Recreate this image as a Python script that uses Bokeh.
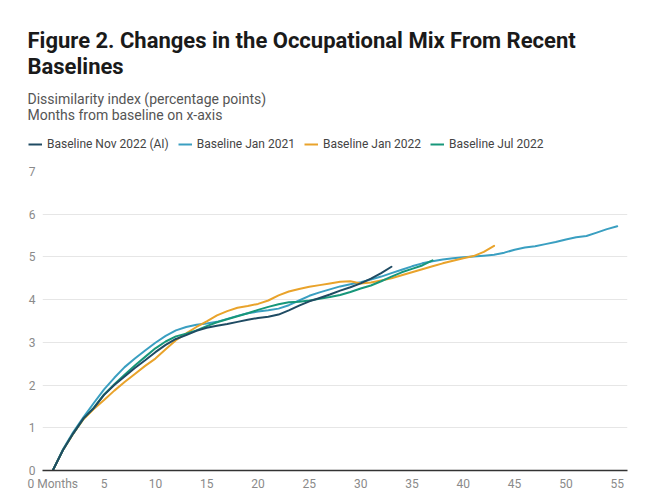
from bokeh.plotting import figure
from bokeh.layouts import column
from bokeh.models import Range1d, FixedTicker, Legend, LegendItem, Label
from bokeh.embed import file_html
from bokeh.resources import INLINE

# ---- data ----
series_names = ["Baseline Nov 2022 (AI)", "Baseline Jan 2021", "Baseline Jan 2022", "Baseline Jul 2022"]

nov2022_ai = [0, 0.48, 0.87, 1.22, 1.46, 1.77, 2.0, 2.2, 2.4, 2.58, 2.77, 2.94, 3.08, 3.17, 3.27,
              3.34, 3.39, 3.43, 3.48, 3.53, 3.57, 3.6, 3.65, 3.75, 3.86, 3.96, 4.04, 4.12, 4.21,
              4.29, 4.38, 4.49, 4.62, 4.77]
jan2021 = [0, 0.5, 0.9, 1.25, 1.58, 1.9, 2.17, 2.42, 2.62, 2.81, 2.99, 3.15, 3.28, 3.36, 3.41,
           3.44, 3.48, 3.55, 3.62, 3.68, 3.72, 3.75, 3.79, 3.87, 3.98, 4.09, 4.17, 4.24, 4.31,
           4.36, 4.41, 4.47, 4.54, 4.62, 4.7, 4.78, 4.85, 4.9, 4.94, 4.97, 4.99, 5.01, 5.03,
           5.05, 5.1, 5.17, 5.22, 5.25, 5.3, 5.35, 5.41, 5.46, 5.49, 5.57, 5.65, 5.72]
jan2022 = [0, 0.48, 0.86, 1.2, 1.44, 1.65, 1.87, 2.07, 2.26, 2.45, 2.62, 2.84, 3.05, 3.21, 3.36,
           3.49, 3.63, 3.73, 3.81, 3.85, 3.9, 3.98, 4.1, 4.19, 4.25, 4.3, 4.34, 4.38, 4.42,
           4.43, 4.38, 4.4, 4.45, 4.5, 4.57, 4.64, 4.71, 4.78, 4.85, 4.91, 4.97, 5.02, 5.12, 5.26]
jul2022 = [0, 0.48, 0.87, 1.22, 1.47, 1.78, 2.02, 2.24, 2.46, 2.66, 2.86, 3.02, 3.14, 3.2, 3.28,
           3.38, 3.47, 3.54, 3.61, 3.68, 3.76, 3.83, 3.89, 3.94, 3.95, 3.98, 4.02, 4.06, 4.11,
           4.18, 4.26, 4.33, 4.43, 4.54, 4.64, 4.72, 4.8, 4.92]

x_ticks = [0, 5, 10, 15, 20, 25, 30, 35, 40, 45, 50, 55]
x_tick_labels = {0: "0 Months"}
y_ticks = [0, 1, 2, 3, 4, 5, 6, 7]

title_lines = ["Figure 2. Changes in the Occupational Mix From Recent", "Baselines"]
subtitle_lines = ["Dissimilarity index (percentage points)", "Months from baseline on x-axis"]

colors = ["#1f4b63", "#3a9fc1", "#e9a32b", "#17977a"]

W = 634
HEAD_H = 160
FONT = "Roboto"
NAN = float("nan")

# ---- header figure (title, subtitle, legend) ----
head = figure(width=W, height=HEAD_H, output_backend="svg", toolbar_location=None,
              x_range=Range1d(0, W), y_range=Range1d(HEAD_H, 0),
              x_axis_type=None, y_axis_type=None,
              min_border_left=0, min_border_right=0, min_border_top=0, min_border_bottom=0)
head.frame_align = False
head.outline_line_color = None
head.xgrid.visible = False
head.ygrid.visible = False

for i, t in enumerate(title_lines):
    head.add_layout(Label(x=27, y=40 + 26 * i, text=t, text_font=FONT, text_font_style="bold",
                          text_font_size="22px", text_color="#1a1a1a", text_baseline="alphabetic"))
for i, t in enumerate(subtitle_lines):
    head.add_layout(Label(x=27, y=98 + 16 * i, text=t, text_font=FONT, text_font_size="14px",
                          text_color="#555555", text_baseline="alphabetic"))

# legend-only renderers (a single NaN point draws nothing)
legend_renderers = [head.line([NAN], [NAN], line_color=c, line_width=2) for c in colors]
items = [LegendItem(label=n, renderers=[r]) for n, r in zip(series_names, legend_renderers)]
legend = Legend(items=items, location=(28, HEAD_H - 152), orientation="horizontal",
                background_fill_alpha=0, border_line_alpha=0, padding=0, margin=0,
                spacing=9, glyph_width=14, glyph_height=16, label_height=16,
                label_standoff=5, label_text_font=FONT,
                label_text_font_size="12px", label_text_color="#444444")
head.add_layout(legend, "center")

# ---- chart figure ----
p = figure(width=W, height=333, output_backend="svg", toolbar_location=None,
           x_range=Range1d(-1, 56), y_range=Range1d(0, 7),
           min_border_left=42, min_border_right=7, min_border_top=11, min_border_bottom=22)
p.frame_align = False
p.outline_line_color = None

p.xgrid.visible = False
p.ygrid.grid_line_color = "#e6e6e6"
p.ygrid.grid_line_width = 1
p.ygrid.ticker = FixedTicker(ticks=y_ticks)

p.xaxis.ticker = FixedTicker(ticks=x_ticks)
p.xaxis.major_label_overrides = x_tick_labels
p.xaxis.axis_line_color = "#333333"
p.xaxis.axis_line_width = 1.5
p.xaxis.major_tick_line_color = None
p.xaxis.minor_tick_line_color = None
p.xaxis.major_tick_out = 0
p.xaxis.major_tick_in = 0
p.xaxis.minor_tick_out = 0
p.xaxis.major_label_text_color = "#8a8a8a"
p.xaxis.major_label_text_font = FONT
p.xaxis.major_label_text_font_size = "12px"
p.xaxis.major_label_standoff = 6

p.yaxis.ticker = FixedTicker(ticks=y_ticks)
p.yaxis.axis_line_color = None
p.yaxis.major_tick_line_color = None
p.yaxis.minor_tick_line_color = None
p.yaxis.major_tick_out = 0
p.yaxis.major_tick_in = 0
p.yaxis.minor_tick_out = 0
p.yaxis.major_label_text_color = "#8a8a8a"
p.yaxis.major_label_text_font = FONT
p.yaxis.major_label_text_font_size = "12px"
p.yaxis.major_label_standoff = 7

# draw Nov 2022 last so it sits on top
order = [1, 2, 3, 0]
data = [nov2022_ai, jan2021, jan2022, jul2022]
for k in order:
    vals = data[k]
    p.line(list(range(len(vals))), vals, line_color=colors[k], line_width=2,
           line_join="round", line_cap="round")

layout = column(head, p, spacing=0)
open("out.html", "w").write(file_html(layout, INLINE))
